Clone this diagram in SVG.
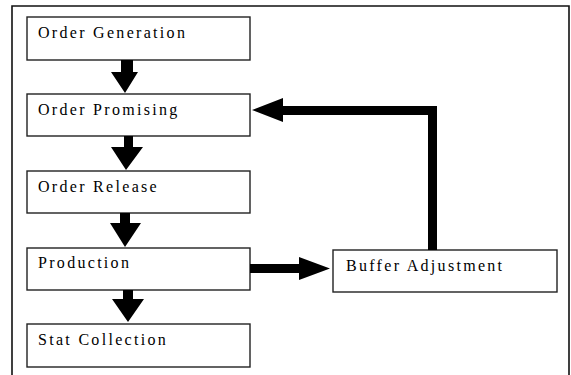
<svg xmlns="http://www.w3.org/2000/svg" width="571" height="375" viewBox="0 0 571 375">
  <style>
    .box { fill: #ffffff; stroke: #222222; stroke-width: 1.4; }
    .label { font-family: "Liberation Serif", "DejaVu Serif", serif; font-size: 16px; letter-spacing: 2.3px; fill: #000000; }
    .frame { fill: none; stroke: #111111; stroke-width: 1.6; }
    .arrow { fill: #000000; stroke: none; }
  </style>
  <rect width="571" height="375" fill="#ffffff"/>
  <!-- open-bottom frame around the flow -->
  <path class="frame" d="M12,375 V6 H569 V375"/>

  <g id="order-generation">
    <rect class="box" x="27" y="17" width="223" height="43"/>
    <text class="label" x="38" y="37.5">Order Generation</text>
  </g>
  <g id="order-promising">
    <rect class="box" x="27" y="94" width="223" height="42"/>
    <text class="label" x="38" y="115">Order Promising</text>
  </g>
  <g id="order-release">
    <rect class="box" x="27" y="171" width="223" height="42"/>
    <text class="label" x="38" y="191.5">Order Release</text>
  </g>
  <g id="production">
    <rect class="box" x="27" y="248" width="223" height="42"/>
    <text class="label" x="38" y="267.5">Production</text>
  </g>
  <g id="stat-collection">
    <rect class="box" x="27" y="324" width="223" height="43"/>
    <text class="label" x="38" y="344.5">Stat Collection</text>
  </g>
  <g id="buffer-adjustment">
    <rect class="box" x="333" y="250" width="224" height="42"/>
    <text class="label" x="346" y="270.5">Buffer Adjustment</text>
  </g>

  <g id="connectors">
    <!-- vertical flow arrows -->
    <polygon class="arrow" points="121,60 133,60 133,72 138,72 125,93 111,72 121,72"/>
    <polygon class="arrow" points="124,136 133,136 133,147 143,147 126,170 111,147 124,147"/>
    <polygon class="arrow" points="120,213 130,213 130,223 141,223 125,247 110,223 120,223"/>
    <polygon class="arrow" points="123,290 133,290 133,299 144,299 128,322 112,299 123,299"/>
    <!-- production to buffer adjustment -->
    <polygon class="arrow" points="250,264 299,264 299,257 330,268.5 299,280 299,273 250,273"/>
    <!-- feedback from buffer adjustment to order promising -->
    <polygon class="arrow" points="428,250 437,250 437,106 283,106 283,98 252,110 283,122 283,115 428,115"/>
  </g>
</svg>
